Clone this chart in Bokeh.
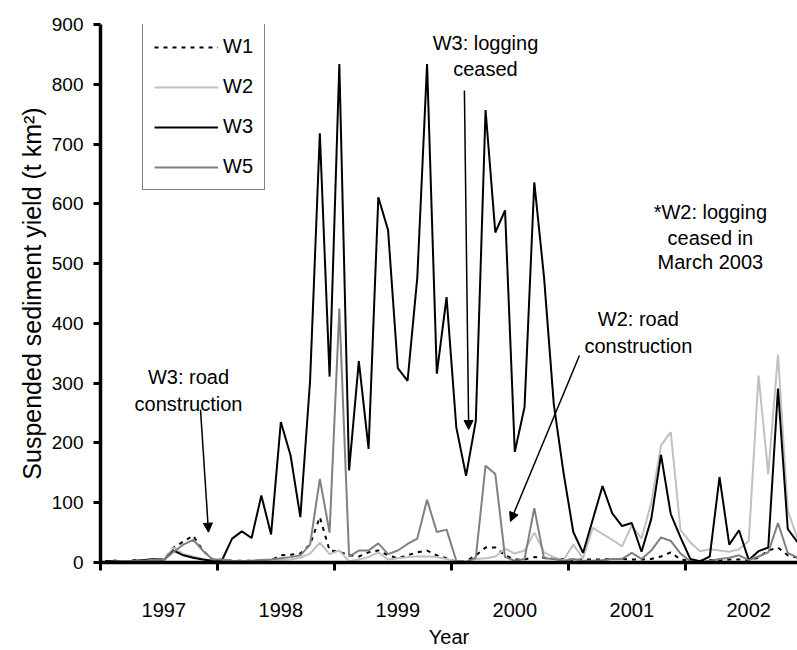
from bokeh.plotting import figure
from bokeh.models import (FixedTicker, Legend, LegendItem, Arrow, NormalHead,
                          ColumnDataSource, Range1d)
from bokeh.core.properties import value
from bokeh.embed import file_html
from bokeh.resources import INLINE

# ---- data (monthly suspended sediment yield, t km^2) ----
years = [1997, 1998, 1999, 2000, 2001, 2002]
months = [i + 0.5 for i in range(72)]

w1 = [2, 3, 1, 4, 3, 5, 5, 25, 35, 45, 20, 5,
      4, 3, 3, 3, 3, 4, 12, 13, 15, 30, 76, 20,
      18, 12, 10, 17, 20, 12, 7, 12, 17, 20, 12, 7,
      1, 2, 12, 25, 25, 12, 5, 5, 9, 8, 6, 6,
      4, 5, 5, 5, 6, 6, 5, 5, 6, 10, 17, 5,
      3, 3, 4, 4, 5, 5, 4, 8, 20, 25, 12, 8]

w2 = [1, 2, 1, 2, 3, 4, 5, 25, 14, 10, 6, 3,
      2, 2, 2, 2, 2, 2, 4, 5, 8, 15, 33, 14,
      20, 2, 5, 9, 17, 5, 7, 9, 10, 10, 9, 6,
      1, 1, 6, 7, 10, 23, 15, 20, 50, 17, 9, 4,
      30, 7, 58, 48, 38, 27, 62, 40, 100, 196, 218, 54,
      34, 19, 22, 20, 18, 22, 36, 313, 148, 348, 87, 40]

w3 = [2, 3, 1, 3, 4, 6, 4, 20, 12, 8, 5, 3,
      5, 40, 52, 41, 112, 47, 235, 179, 76, 304, 718, 311,
      834, 154, 337, 190, 611, 556, 325, 304, 477, 834, 316, 444,
      226, 145, 237, 757, 552, 589, 185, 260, 636, 477, 265, 150,
      51, 16, 72, 128, 82, 61, 66, 18, 73, 180, 81, 42,
      6, 2, 10, 143, 30, 54, 4, 19, 25, 291, 56, 34]

w5 = [1, 2, 2, 3, 3, 5, 4, 18, 30, 38, 20, 5,
      5, 3, 2, 3, 4, 5, 7, 9, 12, 30, 140, 50,
      425, 10, 20, 20, 32, 14, 20, 31, 40, 105, 51, 55,
      3, 1, 8, 162, 148, 9, 3, 6, 91, 7, 6, 3,
      6, 3, 3, 4, 6, 6, 16, 6, 20, 42, 36, 15,
      2, 0, 3, 6, 8, 12, 4, 10, 17, 66, 16, 8]

year_bounds = [0, 12, 24, 36, 48, 60]
year_label_pos = [b + 6.5 for b in year_bounds]
y_ticks = list(range(0, 901, 100))

FONT = "Liberation Sans"

src = ColumnDataSource(dict(x=months, w1=w1, w2=w2, w3=w3, w5=w5))

p = figure(width=797, height=650, output_backend="svg", toolbar_location=None,
           x_range=Range1d(0, 71.5), y_range=Range1d(0, 900),
           min_border_left=100, min_border_right=0, min_border_top=24,
           min_border_bottom=88)
p.outline_line_color = None
p.grid.visible = False
p.background_fill_color = "white"
p.border_fill_color = "white"

r1 = p.line("x", "w1", source=src, line_color="black", line_width=2, line_dash="4 5")
r2 = p.line("x", "w2", source=src, line_color="#c0c0c0", line_width=2)
r3 = p.line("x", "w3", source=src, line_color="black", line_width=2)
r5 = p.line("x", "w5", source=src, line_color="#808080", line_width=2)

# y axis
ya = p.yaxis[0]
ya.ticker = FixedTicker(ticks=y_ticks)
ya.axis_line_width = 3.5
ya.axis_line_color = "black"
ya.major_tick_line_width = 3
ya.major_tick_in = 0
ya.major_tick_out = 7
ya.minor_tick_line_color = None
ya.major_label_text_font = FONT
ya.major_label_text_font_size = "19px"
ya.major_label_text_color = "black"
ya.major_label_standoff = 10
ya.axis_label = "Suspended sediment yield (t km\u00b2)"
ya.axis_label_text_font = FONT
ya.axis_label_text_font_size = "25px"
ya.axis_label_text_font_style = "normal"
ya.axis_label_text_color = "black"
ya.axis_label_standoff = 3

# x axis: ticks at year boundaries (minor), labels between them (major)
xa = p.xaxis[0]
xa.ticker = FixedTicker(ticks=year_label_pos, minor_ticks=year_bounds)
xa.major_label_overrides = {pos: str(y) for pos, y in zip(year_label_pos, years)}
xa.axis_line_width = 3.5
xa.axis_line_color = "black"
xa.major_tick_line_color = None
xa.major_tick_in = 0
xa.major_tick_out = 8
xa.minor_tick_line_color = "black"
xa.minor_tick_line_width = 3
xa.minor_tick_in = 0
xa.minor_tick_out = 8
xa.major_label_text_font = FONT
xa.major_label_text_font_size = "20px"
xa.major_label_text_color = "black"
xa.major_label_standoff = 32
xa.axis_label = "Year"
xa.axis_label_text_font = FONT
xa.axis_label_text_font_size = "20px"
xa.axis_label_text_font_style = "normal"
xa.axis_label_text_color = "black"
xa.axis_label_standoff = 6

# legend
legend = Legend(items=[LegendItem(label="W1", renderers=[r1]),
                       LegendItem(label="W2", renderers=[r2]),
                       LegendItem(label="W3", renderers=[r3]),
                       LegendItem(label="W5", renderers=[r5])],
                location=(42, 372), orientation="vertical",
                glyph_width=64, glyph_height=22, label_height=22,
                spacing=17, padding=11, margin=0, label_standoff=5,
                label_text_font=FONT, label_text_font_size="20px",
                label_text_color="black",
                border_line_color="black", border_line_width=1,
                background_fill_color="white", background_fill_alpha=1)
p.add_layout(legend)

# annotations
ann_x = [9.03, 9.03, 39.49, 39.49, 62.56, 62.56, 62.56, 55.18, 55.18]
ann_y = [310, 265.5, 868.7, 825.9, 586, 543.2, 502.3, 407.7, 363]
ann_t = ["W3: road", "construction", "W3: logging", "ceased",
         "*W2: logging", "ceased in", "March 2003", "W2: road", "construction"]
p.text(x=ann_x, y=ann_y, text=ann_t, text_font=value(FONT), text_font_size="20px",
       text_align="center", text_baseline="alphabetic", text_color="black")

for xs, ys, xe, ye in [(10.26, 255.9, 11.08, 50.7),
                       (37.33, 789.6, 37.77, 222.5),
                       (49.13, 346.3, 42.05, 68.6)]:
    p.add_layout(Arrow(end=NormalHead(size=9, fill_color="black", line_color="black", line_width=1),
                       x_start=xs, y_start=ys, x_end=xe, y_end=ye,
                       line_color="black", line_width=1.5))

open("out.html", "w").write(file_html(p, INLINE))
